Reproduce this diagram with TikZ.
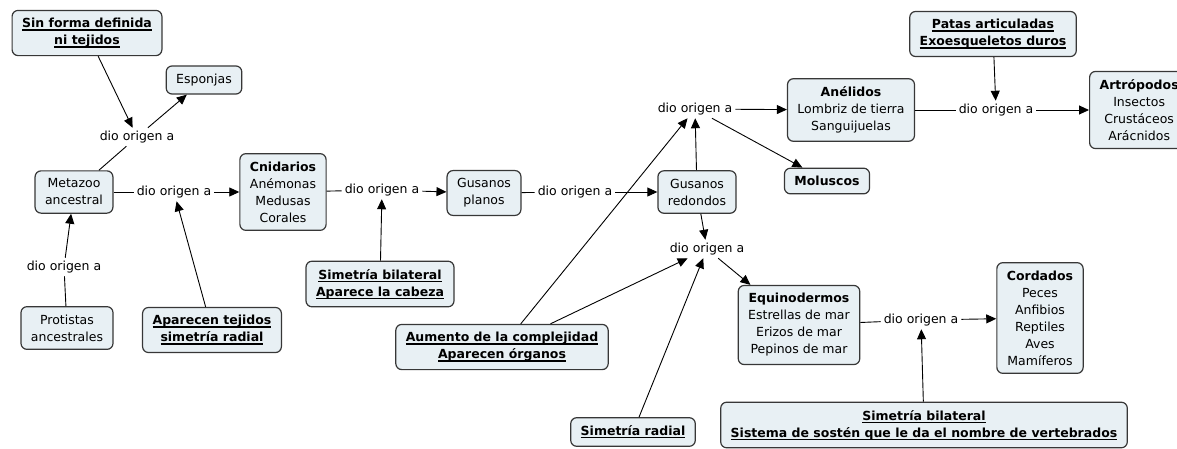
\documentclass[tikz,border=0pt]{standalone}
\usepackage{fontspec}
\setmainfont{DejaVu Sans}
\usetikzlibrary{arrows.meta}
\definecolor{conceptfill}{RGB}{232,240,244}
\definecolor{conceptline}{RGB}{55,55,55}
\newcommand{\ulbold}[1]{\setbox0\hbox{\textbf{#1}}\rlap{\rule[-2.6pt]{\wd0}{1.1pt}}\box0}

\begin{document}
\begin{tikzpicture}[x=1pt,y=-1pt,
    every node/.style={font=\fontsize{12.5}{17}\selectfont, align=center},
    concept/.style={draw=conceptline, fill=conceptfill, line width=1.2pt,
      rounded corners=6pt, inner xsep=10pt, inner ysep=8pt},
    link/.style={inner sep=3pt},
    arr/.style={-{Triangle[length=10pt,width=9pt]}, line width=0.9pt},
    ln/.style={line width=0.9pt}]
      \useasboundingbox (0,0) rectangle (1177,448);
      \path
        (87,33) node[concept] (sinforma){\ulbold{Sin forma definida}\\\ulbold{ni tejidos}}
        (204,80) node[concept] (esponjas){Esponjas}
        (74,192) node[concept] (metazoo){Metazoo\\ancestral}
        (67,328) node[concept] (protistas){Protistas\\ancestrales}
        (283,192) node[concept] (cnidarios){\textbf{Cnidarios}\\Anémonas\\Medusas\\Corales}
        (212,330) node[concept] (tejidos){\ulbold{Aparecen tejidos}\\\ulbold{simetría radial}}
        (484,193) node[concept] (gplanos){Gusanos\\planos}
        (380,284) node[concept] (cabeza){\ulbold{Simetría bilateral}\\\ulbold{Aparece la cabeza}}
        (697,192) node[concept] (gredondos){Gusanos\\redondos}
        (851,110) node[concept] (anelidos){\textbf{Anélidos}\\Lombriz de tierra\\Sanguijuelas}
        (827,181) node[concept] (moluscos){\textbf{Moluscos}}
        (993,34) node[concept] (patas){\ulbold{Patas articuladas}\\\ulbold{Exoesqueletos duros}}
        (1089,110) node[concept, anchor=west] (artropodos){\textbf{Artrópodos}\\Insectos\\Crustáceos\\Arácnidos}
        (502,347) node[concept] (aumento){\ulbold{Aumento de la complejidad}\\\ulbold{Aparecen órganos}}
        (633,432) node[concept] (radial){\ulbold{Simetría radial}}
        (799,325) node[concept] (equino){\textbf{Equinodermos}\\Estrellas de mar\\Erizos de mar\\Pepinos de mar}
        (1040,318) node[concept] (cordados){\textbf{Cordados}\\Peces\\Anfibios\\Reptiles\\Aves\\Mamíferos}
        (924,425) node[concept] (sosten){\ulbold{Simetría bilateral}\\\ulbold{Sistema de sostén que le da el nombre de vertebrados}};
      % linking phrases
      \path
        (64,267) node[link] (l0){dio origen a}
        (137,137) node[link] (l1){dio origen a}
        (174,192) node[link] (l2){dio origen a}
        (382,190) node[link] (l3){dio origen a}
        (575,192) node[link] (l4){dio origen a}
        (695,109) node[link] (l5){dio origen a}
        (996,110) node[link] (l6){dio origen a}
        (707,249) node[link] (l7){dio origen a}
        (921,320) node[link] (l8){dio origen a};
      \begin{scope}[ln]
        \draw (protistas) to (l0);
        \draw (metazoo) to (l1);
        \draw (metazoo) to (l2);
        \draw (cnidarios) to (l3);
        \draw (gplanos) to (l4);
        \draw (anelidos) to (l6);
        \draw (equino) to (l8);
      \end{scope}
      \begin{scope}[arr]
        \draw (l0) to (metazoo);
        \draw (l1) to (esponjas);
        \draw (sinforma) to (l1);
        \draw (l2) to (cnidarios);
        \draw (tejidos) to (l2);
        \draw (l3) to (gplanos);
        \draw (cabeza) to (l3);
        \draw (l4) to (gredondos);
        \draw (gredondos) to (l5);
        \draw (l5) to (anelidos);
        \draw (l5) to (moluscos);
        \draw (aumento) to (l5);
        \draw (patas) to (l6);
        \draw (l6) to (artropodos);
        \draw (gredondos) to (l7);
        \draw (aumento) to (l7);
        \draw (radial) to (l7);
        \draw (l7) to (equino);
        \draw (sosten) to (l8);
        \draw (l8) to (cordados);
      \end{scope}
    \end{tikzpicture}
\end{document}
